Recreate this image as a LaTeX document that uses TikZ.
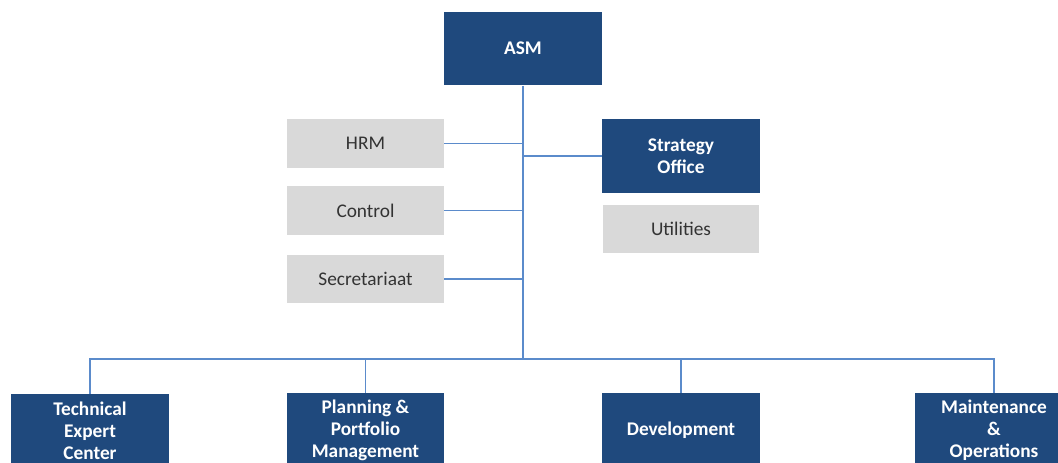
\documentclass[tikz,border=0pt]{standalone}
\usepackage{fontspec}
\setmainfont{Carlito}
\usepackage{tikz}
\definecolor{donker}{HTML}{1F497D}
\definecolor{grijs}{HTML}{D9D9D9}
\definecolor{lijn}{HTML}{5B8BCB}
\usetikzlibrary{calc}
\tikzset{unit/.style={
    fill=donker,
    text=white,
    font=\fontsize{11}{12.5}\selectfont\bfseries,
    align=center,
    minimum width=3.16cm,
    minimum height=1.48cm,
    inner sep=0}}
\tikzset{staff/.style={
    fill=grijs,
    text=black!80,
    font=\fontsize{11}{12.5}\selectfont,
    align=center,
    minimum width=3.14cm,
    minimum height=0.98cm,
    inner sep=0}}
\tikzset{link/.style={
    draw=lijn,
    line width=1.1pt}}

\begin{document}
\begin{tikzpicture}[x=0.02cm, y=-0.02cm]
  \useasboundingbox (0,0) rectangle (1058,463);
  \clip (0,0) rectangle (1058,463);

  \coordinate (bus) at (523,359);

\node[unit] (asm) at (523,48.5) {ASM};

\node[unit] (so) at (681,156) {Strategy\\Office};

\node[staff] (util) at (681,229) {Utilities};

\node[staff] (hrm) at (365.5,143.5) {HRM};
\node[staff] (ctrl) at (365.5,210.5) {Control};
\node[staff] (secr) at (365.5,279) {Secretariaat};

\node[unit] (tec) at (90,431) {Technical\\Expert\\Center};
\node[unit] (ppm) at (365.5,430) {Planning \&\\Portfolio\\Management};
\node[unit] (dev) at (681,430) {Development};
\node[unit] (mo) at (994,430) {Maintenance\\\&\\Operations};

  % verbindingen
  \draw[link] (asm.south) -- (bus);
  \draw[link] (hrm.east) -- (hrm.east -| asm.south);
  \draw[link] (ctrl.east) -- (ctrl.east -| asm.south);
  \draw[link] (secr.east) -- (secr.east -| asm.south);
  \draw[link] (so.west) -- (so.west -| asm.south);

  \draw[link] (tec.north) |- (bus) -| (mo.north);
  \draw[link] (ppm.north) -- (ppm.north |- bus);
  \draw[link] (dev.north) -- (dev.north |- bus);
\end{tikzpicture}
\end{document}
